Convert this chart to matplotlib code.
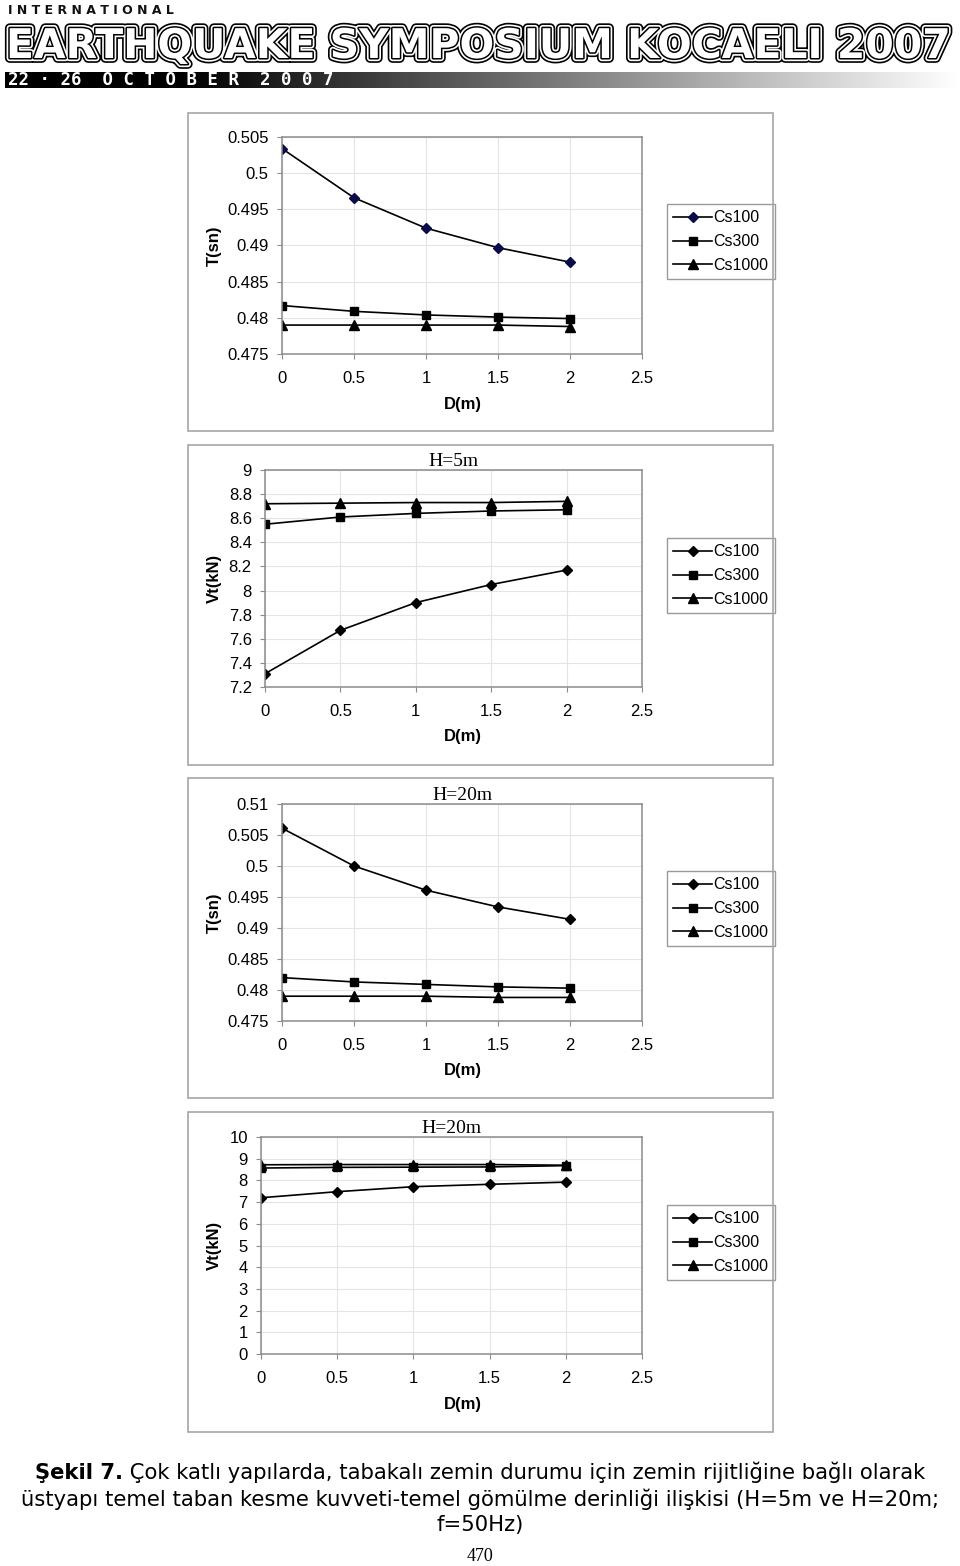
import matplotlib
matplotlib.use("Agg")
import matplotlib.pyplot as plt
import matplotlib.patheffects as pe
from matplotlib import font_manager
from matplotlib.patches import Rectangle
from matplotlib.ticker import MultipleLocator, FormatStrFormatter
import numpy as np

# ---- data ----
depth = [0, 0.5, 1, 1.5, 2]
series_names = ['Cs100', 'Cs300', 'Cs1000']

# T(sn), top panel
t_a_cs100 = [0.5034, 0.4966, 0.4924, 0.4897, 0.4877]
t_a_cs300 = [0.4817, 0.4809, 0.4804, 0.4801, 0.4799]
t_a_cs1000 = [0.4790, 0.4790, 0.4790, 0.4790, 0.4788]

# Vt(kN), H=5m
vt_5_cs100 = [7.31, 7.67, 7.90, 8.05, 8.17]
vt_5_cs300 = [8.55, 8.61, 8.64, 8.66, 8.67]
vt_5_cs1000 = [8.72, 8.725, 8.73, 8.73, 8.74]

# T(sn), H=20m
t_20_cs100 = [0.5061, 0.5000, 0.4961, 0.4934, 0.4914]
t_20_cs300 = [0.4820, 0.4813, 0.4809, 0.4805, 0.4803]
t_20_cs1000 = [0.4790, 0.4790, 0.4790, 0.4788, 0.4788]

# Vt(kN), H=20m
vt_20_cs100 = [7.20, 7.48, 7.71, 7.82, 7.92]
vt_20_cs300 = [8.57, 8.60, 8.61, 8.62, 8.68]
vt_20_cs1000 = [8.72, 8.73, 8.73, 8.73, 8.70]

W, H = 960, 1566
fig = plt.figure(figsize=(W / 100, H / 100), dpi=100)
fig.patch.set_facecolor('white')


def fig_box(x0, y0, x1, y1):
    # pixel box (top-left origin) -> figure fraction rect
    return [x0 / W, 1 - y1 / H, (x1 - x0) / W, (y1 - y0) / H]


available = {f.name for f in font_manager.fontManager.ttflist}
chart_font = 'Liberation Sans'
serif_font = 'Liberation Serif'
head_font = 'Liberation Sans Narrow' if 'Liberation Sans Narrow' in available else 'DejaVu Sans'

# ---- header banner ----
fig.text(8 / W, 1 - 14 / H, 'I N T E R N A T I O N A L', family='DejaVu Sans',
         fontsize=9, weight='bold', color='#111111', va='baseline')

title_txt = fig.text(6 / W, 1 - 58 / H, 'EARTHQUAKE SYMPOSIUM KOCAELI 2007', family=head_font,
                     weight='bold', fontsize=30, color='white', va='baseline')
renderer = fig.canvas.get_renderer()
tw = title_txt.get_window_extent(renderer).width
title_txt.set_fontsize(30 * 946 / tw)
title_txt.set_path_effects([pe.Stroke(linewidth=7, foreground='black'),
                            pe.Stroke(linewidth=4.6, foreground='white'),
                            pe.Stroke(linewidth=2.2, foreground='black'),
                            pe.Normal()])

bar_ax = fig.add_axes(fig_box(5, 72, 960, 88))
grad = np.clip((np.linspace(0, 960, 500) - 180) / 780, 0, 1)
bar_ax.imshow(grad[np.newaxis, :], cmap='gray', aspect='auto', vmin=0, vmax=1.0,
              extent=(0, 1, 0, 1))
bar_ax.set_axis_off()
fig.text(8 / W, 1 - 85 / H, '22 · 26  O C T O B E R  2 0 0 7', family='DejaVu Sans Mono',
         weight='bold', fontsize=12.5, color='white', va='baseline')

# ---- chart panels ----
panels = [
    dict(plot=(282, 137, 642, 354), frame=(188, 113, 773, 431), ylim=(0.475, 0.505), step=0.005,
         ylabel='T(sn)', title=None, legend_top=204,
         data=(t_a_cs100, t_a_cs300, t_a_cs1000), c100='#0b0b4a'),
    dict(plot=(265, 470, 642, 687), frame=(188, 445, 773, 765), ylim=(7.2, 9.0), step=0.2,
         ylabel='Vt(kN)', title='H=5m', legend_top=538,
         data=(vt_5_cs100, vt_5_cs300, vt_5_cs1000), c100='black'),
    dict(plot=(282, 804, 642, 1021), frame=(188, 778, 773, 1098), ylim=(0.475, 0.51), step=0.005,
         ylabel='T(sn)', title='H=20m', legend_top=871,
         data=(t_20_cs100, t_20_cs300, t_20_cs1000), c100='black'),
    dict(plot=(261, 1137, 642, 1354), frame=(188, 1112, 773, 1432), ylim=(0, 10), step=1,
         ylabel='Vt(kN)', title='H=20m', legend_top=1205,
         data=(vt_20_cs100, vt_20_cs300, vt_20_cs1000), c100='black'),
]

markers = ['D', 's', '^']
msizes = [5.5, 6, 7]

for p in panels:
    fx0, fy0, fx1, fy1 = p['frame']
    fig.patches.append(Rectangle((fx0 / W, 1 - fy1 / H), (fx1 - fx0) / W, (fy1 - fy0) / H,
                                 transform=fig.transFigure, fill=False,
                                 edgecolor='#a6a6a6', linewidth=1.2))

    ax = fig.add_axes(fig_box(*p['plot']))
    for i, (name, vals) in enumerate(zip(series_names, p['data'])):
        face = p['c100'] if i == 0 else 'black'
        ax.plot(depth, vals, color='black', linewidth=1.2, marker=markers[i],
                markersize=msizes[i], markerfacecolor=face, markeredgecolor=face, label=name)

    ax.set_xlim(0, 2.5)
    ax.set_ylim(*p['ylim'])
    ax.xaxis.set_major_locator(MultipleLocator(0.5))
    ax.yaxis.set_major_locator(MultipleLocator(p['step']))
    ax.xaxis.set_major_formatter(FormatStrFormatter('%g'))
    ax.yaxis.set_major_formatter(FormatStrFormatter('%g'))
    ax.grid(True, color='#e4e4e4', linewidth=0.8)
    ax.set_axisbelow(True)
    for s in ax.spines.values():
        s.set_color('#8c8c8c')
        s.set_linewidth(1.1)
    ax.tick_params(direction='out', length=3.5, width=0.8, color='#8c8c8c',
                   labelsize=12, labelcolor='black')
    ax.tick_params(axis='x', pad=9)
    ax.tick_params(axis='y', pad=6)
    for lab in ax.get_xticklabels() + ax.get_yticklabels():
        lab.set_family(chart_font)

    ax.set_xlabel('D(m)', family=chart_font, fontsize=12, weight='bold', va='center')
    ax.xaxis.set_label_coords(463 / W, 1 - (p['plot'][3] + 50) / H, transform=fig.transFigure)
    ax.set_ylabel(p['ylabel'], family=chart_font, fontsize=12, weight='bold', va='center')
    ax.yaxis.set_label_coords(214 / W, 1 - (p['plot'][1] + p['plot'][3]) / 2 / H,
                              transform=fig.transFigure)

    if p['title']:
        ax.set_title(p['title'], family=serif_font, fontsize=14, pad=1)

    leg = ax.legend(loc='upper left', bbox_to_anchor=(667 / W, 1 - p['legend_top'] / H),
                    bbox_transform=fig.transFigure, frameon=True, fancybox=False,
                    edgecolor='#9a9a9a', framealpha=1, borderaxespad=0,
                    prop={'family': chart_font, 'size': 11.5}, handlelength=2.4,
                    handletextpad=0.1, labelspacing=0.55, borderpad=0.4)
    leg.get_frame().set_linewidth(1.0)

# ---- caption ----
cap_font = 'DejaVu Sans'
cap_size = 15.2
y1 = 1 - 1479 / H
tb = fig.text(0, y1, 'Şekil 7.', family=cap_font, fontsize=cap_size, weight='bold', va='baseline')
tn = fig.text(0, y1, ' Çok katlı yapılarda, tabakalı zemin durumu için zemin rijitliğine bağlı olarak',
              family=cap_font, fontsize=cap_size, va='baseline')
wb = tb.get_window_extent(renderer).width
wn = tn.get_window_extent(renderer).width
x0 = (W - wb - wn) / 2
tb.set_x(x0 / W)
tn.set_x((x0 + wb) / W)

fig.text(0.5, 1 - 1506 / H,
         'üstyapı temel taban kesme kuvveti-temel gömülme derinliği ilişkisi (H=5m ve H=20m;',
         family=cap_font, fontsize=cap_size, ha='center', va='baseline')
fig.text(0.5, 1 - 1531 / H, 'f=50Hz)', family=cap_font, fontsize=cap_size, ha='center', va='baseline')
fig.text(0.5, 1 - 1561 / H, '470', family=serif_font, fontsize=13, ha='center', va='baseline')

fig.savefig('out.png', dpi=100)
